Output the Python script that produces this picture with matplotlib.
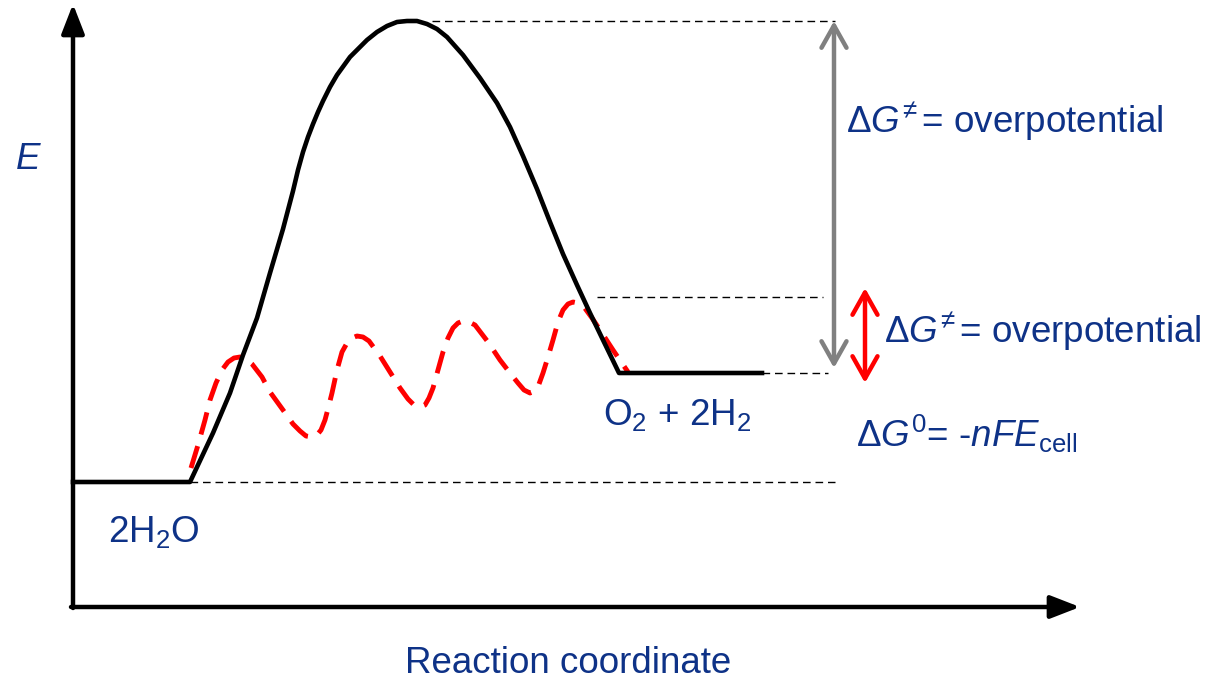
import matplotlib
matplotlib.use("Agg")
import matplotlib.pyplot as plt
from matplotlib.patches import FancyArrowPatch

plt.rcParams['font.family'] = ['Liberation Sans', 'DejaVu Sans']
plt.rcParams['mathtext.fontset'] = 'custom'
plt.rcParams['mathtext.rm'] = 'Liberation Sans'
plt.rcParams['mathtext.it'] = 'Liberation Sans:italic'
plt.rcParams['mathtext.bf'] = 'Liberation Sans:bold'

# --- data (diagram units: x = reaction coordinate, y = energy, top = high) ---
# uncatalysed path (black)
path_x = [73, 190, 213, 230, 243, 257, 270, 283, 293, 298, 303, 308, 313, 318, 323,
          330, 337, 350, 367, 377, 387, 397, 407, 417, 427, 437, 447, 463, 480,
          497, 510, 523, 537, 550, 563, 577, 590, 603, 619, 762]
path_y = [482, 482, 433, 393, 355, 318, 273, 229, 191, 170, 152, 137, 124, 112, 101,
          87, 75, 57, 40, 32, 26, 22, 21, 21, 24, 29, 37, 55, 78,
          103, 127, 156, 189, 222, 254, 285, 313, 340, 373, 373]

# catalysed path (red dashed)
cat_x = [191, 198, 205, 210, 216, 222, 228, 234, 240, 246, 252, 262, 270, 283, 293,
         300, 306, 312, 317, 321, 325, 329, 332, 337, 342, 347, 352, 357, 363,
         369, 380, 390, 400, 408, 414, 420, 425, 429, 433, 438, 443, 448, 453,
         458, 463, 469, 475, 488, 500, 510, 518, 524, 530, 535, 539, 543, 548,
         553, 558, 563, 568, 573, 578, 584, 592, 600, 613, 628]
cat_y = [468, 445, 420, 400, 383, 370, 362, 358, 357, 359, 364, 377, 392, 410, 424,
         431, 436, 437, 435, 430, 420, 405, 393, 370, 352, 343, 338, 336, 337,
         341, 356, 372, 388, 399, 405, 407, 405, 398, 388, 370, 352, 338, 328,
         323, 321, 322, 325, 342, 360, 373, 383, 390, 393, 391, 384, 373, 357,
         340, 322, 310, 304, 302, 303, 307, 318, 330, 350, 372]

# energy levels for the guide lines
level_start = 482
level_end = 373
level_ts = 21
level_cat_ts = 297

text_blue = '#0e3287'

fig = plt.figure(figsize=(12.08, 6.8), dpi=100)
ax = fig.add_axes([0, 0, 1, 1])
ax.set_xlim(0, 1208)
ax.set_ylim(680, 0)
ax.axis('off')

# axes with arrow heads
ax.annotate('', xy=(73, 4), xytext=(73, 608),
            arrowprops=dict(arrowstyle='-|>,head_length=0.9,head_width=0.35',
                            color='black', lw=3.2, shrinkA=0, shrinkB=0,
                            mutation_scale=20))
ax.annotate('', xy=(1080, 607), xytext=(71, 607),
            arrowprops=dict(arrowstyle='-|>,head_length=0.9,head_width=0.35',
                            color='black', lw=3.2, shrinkA=0, shrinkB=0,
                            mutation_scale=20))

# guide lines
dash = dict(color='black', lw=1.0, dashes=(5.5, 3.5))
ax.plot([190, 835], [level_start, level_start], **dash)
ax.plot([432, 835], [level_ts, level_ts], **dash)
ax.plot([597, 823], [level_cat_ts, level_cat_ts], **dash)
ax.plot([762, 828], [level_end, level_end], **dash)

# energy profiles
ax.plot(cat_x, cat_y, color='#ff0000', lw=3.5, dashes=(4.7, 2.5),
        solid_capstyle='butt', dash_capstyle='butt', dash_joinstyle='round',
        zorder=2)
ax.plot(path_x, path_y, color='black', lw=3.3, solid_joinstyle='round', zorder=3)

# overpotential arrows
head = '<->,head_length=0.8,head_width=0.45'
grey = FancyArrowPatch((834, level_ts), (834, 368), arrowstyle=head,
                       mutation_scale=20, color='#808080', lw=3.2,
                       shrinkA=0, shrinkB=0)
ax.add_patch(grey)
red = FancyArrowPatch((865, 288), (865, 383), arrowstyle=head,
                      mutation_scale=20, color='#ff0000', lw=3.2,
                      shrinkA=0, shrinkB=0)
ax.add_patch(red)

fs = 26.5
ax.text(15, 169, '$E$', fontsize=fs, color=text_blue, ha='left', va='baseline')
ax.text(846, 133, r'$\Delta G^{\!\neq}$= overpotential', fontsize=fs,
        color=text_blue, ha='left', va='baseline')
ax.text(884, 343, r'$\Delta G^{\!\neq}$= overpotential', fontsize=fs,
        color=text_blue, ha='left', va='baseline')
ax.text(856, 447, r'$\Delta G^{0}$= -$nFE_{\mathrm{cell}}$', fontsize=fs,
        color=text_blue, ha='left', va='baseline')
ax.text(108, 542, r'2H$_2$O', fontsize=fs, color=text_blue,
        ha='left', va='baseline')
ax.text(603, 425, r'O$_2$ + 2H$_2$', fontsize=fs, color=text_blue,
        ha='left', va='baseline')
ax.text(568, 673, 'Reaction coordinate', fontsize=fs, color=text_blue,
        ha='center', va='baseline')

fig.savefig('out.png', dpi=100)
